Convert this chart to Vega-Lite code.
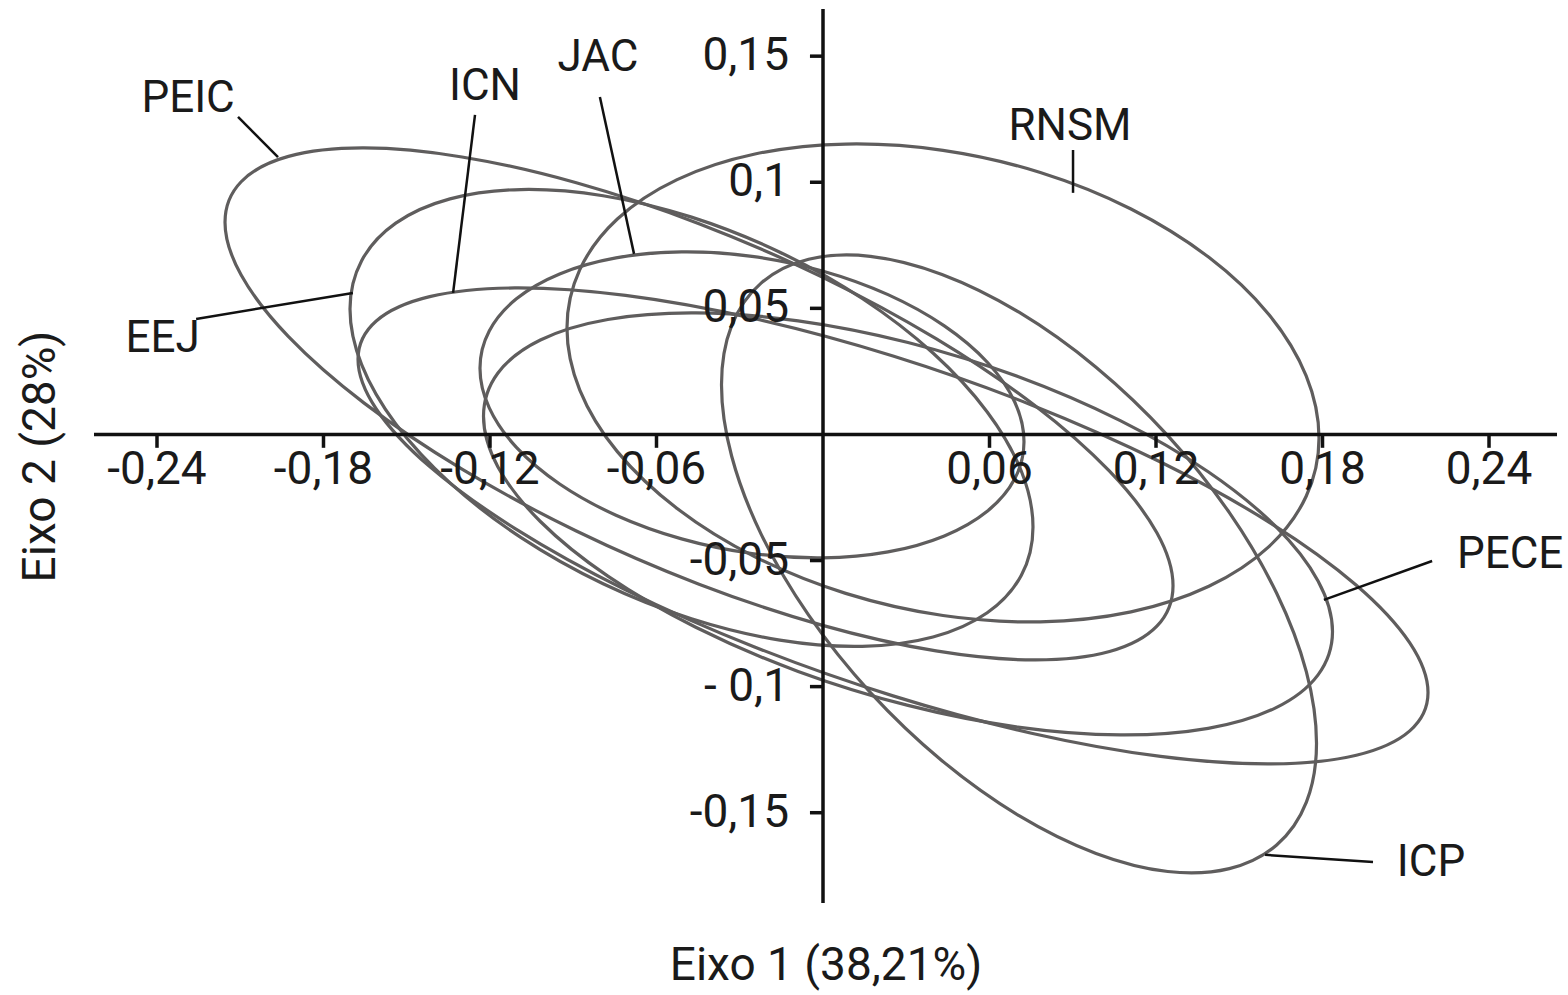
{
  "$schema": "https://vega.github.io/schema/vega-lite/v6.json",
  "width": 1463,
  "height": 894,
  "autosize": {"type": "none"},
  "padding": {"left": 94, "top": 9, "right": 11, "bottom": 92},
  "background": "white",
  "config": {
    "view": {"stroke": null},
    "font": "Roboto",
    "axis": {"domain": false, "ticks": false, "labels": false, "grid": false,
             "titleFontSize": 46, "titleFontWeight": "normal", "titleColor": "#1a1a1a", "titleFont": "Roboto"},
    "axisX": {"titlePadding": 40},
    "axisY": {"titlePadding": 30}
  },
  "datasets": {
    "ellipses": [
      {"g":"PEIC","i":0,"x":0.12613,"y":-0.05998},{"g":"PEIC","i":1,"x":0.12031,"y":-0.03902},{"g":"PEIC","i":2,"x":0.10325,"y":-0.01459},{"g":"PEIC","i":3,"x":0.07610,"y":0.01167},{"g":"PEIC","i":4,"x":0.04073,"y":0.03795},{"g":"PEIC","i":5,"x":-0.00047,"y":0.06248},{"g":"PEIC","i":6,"x":-0.04468,"y":0.08357},{"g":"PEIC","i":7,"x":-0.08889,"y":0.09978},{"g":"PEIC","i":8,"x":-0.13009,"y":0.11003},{"g":"PEIC","i":9,"x":-0.16546,"y":0.11360},{"g":"PEIC","i":10,"x":-0.19261,"y":0.11025},{"g":"PEIC","i":11,"x":-0.20967,"y":0.10020},{"g":"PEIC","i":12,"x":-0.21549,"y":0.08416},{"g":"PEIC","i":13,"x":-0.20967,"y":0.06320},{"g":"PEIC","i":14,"x":-0.19261,"y":0.03877},{"g":"PEIC","i":15,"x":-0.16546,"y":0.01251},{"g":"PEIC","i":16,"x":-0.13009,"y":-0.01377},{"g":"PEIC","i":17,"x":-0.08889,"y":-0.03830},{"g":"PEIC","i":18,"x":-0.04468,"y":-0.05939},{"g":"PEIC","i":19,"x":-0.00047,"y":-0.07560},{"g":"PEIC","i":20,"x":0.04073,"y":-0.08585},{"g":"PEIC","i":21,"x":0.07610,"y":-0.08942},{"g":"PEIC","i":22,"x":0.10325,"y":-0.08607},{"g":"PEIC","i":23,"x":0.12031,"y":-0.07602},
      {"g":"EEJ","i":0,"x":0.07567,"y":-0.03668},{"g":"EEJ","i":1,"x":0.07148,"y":-0.01460},{"g":"EEJ","i":2,"x":0.05918,"y":0.00893},{"g":"EEJ","i":3,"x":0.03963,"y":0.03229},{"g":"EEJ","i":4,"x":0.01414,"y":0.05389},{"g":"EEJ","i":5,"x":-0.01554,"y":0.07227},{"g":"EEJ","i":6,"x":-0.04739,"y":0.08617},{"g":"EEJ","i":7,"x":-0.07924,"y":0.09465},{"g":"EEJ","i":8,"x":-0.10892,"y":0.09711},{"g":"EEJ","i":9,"x":-0.13441,"y":0.09341},{"g":"EEJ","i":10,"x":-0.15396,"y":0.08379},{"g":"EEJ","i":11,"x":-0.16626,"y":0.06890},{"g":"EEJ","i":12,"x":-0.17045,"y":0.04976},{"g":"EEJ","i":13,"x":-0.16626,"y":0.02768},{"g":"EEJ","i":14,"x":-0.15396,"y":0.00415},{"g":"EEJ","i":15,"x":-0.13441,"y":-0.01921},{"g":"EEJ","i":16,"x":-0.10892,"y":-0.04081},{"g":"EEJ","i":17,"x":-0.07924,"y":-0.05919},{"g":"EEJ","i":18,"x":-0.04739,"y":-0.07309},{"g":"EEJ","i":19,"x":-0.01554,"y":-0.08157},{"g":"EEJ","i":20,"x":0.01414,"y":-0.08403},{"g":"EEJ","i":21,"x":0.03963,"y":-0.08033},{"g":"EEJ","i":22,"x":0.05918,"y":-0.07071},{"g":"EEJ","i":23,"x":0.07148,"y":-0.05582},
      {"g":"ICN","i":0,"x":0.21802,"y":-0.10234},{"g":"ICN","i":1,"x":0.21145,"y":-0.08265},{"g":"ICN","i":2,"x":0.19219,"y":-0.05979},{"g":"ICN","i":3,"x":0.16155,"y":-0.03534},{"g":"ICN","i":4,"x":0.12163,"y":-0.01095},{"g":"ICN","i":5,"x":0.07513,"y":0.01171},{"g":"ICN","i":6,"x":0.02523,"y":0.03111},{"g":"ICN","i":7,"x":-0.02467,"y":0.04591},{"g":"ICN","i":8,"x":-0.07117,"y":0.05511},{"g":"ICN","i":9,"x":-0.11109,"y":0.05808},{"g":"ICN","i":10,"x":-0.14173,"y":0.05463},{"g":"ICN","i":11,"x":-0.16099,"y":0.04497},{"g":"ICN","i":12,"x":-0.16756,"y":0.02978},{"g":"ICN","i":13,"x":-0.16099,"y":0.01009},{"g":"ICN","i":14,"x":-0.14173,"y":-0.01277},{"g":"ICN","i":15,"x":-0.11109,"y":-0.03722},{"g":"ICN","i":16,"x":-0.07117,"y":-0.06161},{"g":"ICN","i":17,"x":-0.02467,"y":-0.08427},{"g":"ICN","i":18,"x":0.02523,"y":-0.10367},{"g":"ICN","i":19,"x":0.07513,"y":-0.11847},{"g":"ICN","i":20,"x":0.12163,"y":-0.12767},{"g":"ICN","i":21,"x":0.16155,"y":-0.13064},{"g":"ICN","i":22,"x":0.19219,"y":-0.12719},{"g":"ICN","i":23,"x":0.21145,"y":-0.11753},
      {"g":"JAC","i":0,"x":0.07243,"y":-0.00286},{"g":"JAC","i":1,"x":0.06909,"y":0.01288},{"g":"JAC","i":2,"x":0.05930,"y":0.02854},{"g":"JAC","i":3,"x":0.04372,"y":0.04305},{"g":"JAC","i":4,"x":0.02342,"y":0.05543},{"g":"JAC","i":5,"x":-0.00022,"y":0.06482},{"g":"JAC","i":6,"x":-0.02559,"y":0.07060},{"g":"JAC","i":7,"x":-0.05096,"y":0.07236},{"g":"JAC","i":8,"x":-0.07460,"y":0.06999},{"g":"JAC","i":9,"x":-0.09490,"y":0.06364},{"g":"JAC","i":10,"x":-0.11048,"y":0.05376},{"g":"JAC","i":11,"x":-0.12027,"y":0.04100},{"g":"JAC","i":12,"x":-0.12361,"y":0.02626},{"g":"JAC","i":13,"x":-0.12027,"y":0.01052},{"g":"JAC","i":14,"x":-0.11048,"y":-0.00514},{"g":"JAC","i":15,"x":-0.09490,"y":-0.01965},{"g":"JAC","i":16,"x":-0.07460,"y":-0.03203},{"g":"JAC","i":17,"x":-0.05096,"y":-0.04142},{"g":"JAC","i":18,"x":-0.02559,"y":-0.04720},{"g":"JAC","i":19,"x":-0.00022,"y":-0.04896},{"g":"JAC","i":20,"x":0.02342,"y":-0.04659},{"g":"JAC","i":21,"x":0.04372,"y":-0.04024},{"g":"JAC","i":22,"x":0.05930,"y":-0.03036},{"g":"JAC","i":23,"x":0.06909,"y":-0.01760},
      {"g":"RNSM","i":0,"x":0.17874,"y":-0.00138},{"g":"RNSM","i":1,"x":0.17412,"y":0.02323},{"g":"RNSM","i":2,"x":0.16059,"y":0.04766},{"g":"RNSM","i":3,"x":0.13905,"y":0.07022},{"g":"RNSM","i":4,"x":0.11099,"y":0.08939},{"g":"RNSM","i":5,"x":0.07831,"y":0.10387},{"g":"RNSM","i":6,"x":0.04324,"y":0.11265},{"g":"RNSM","i":7,"x":0.00817,"y":0.11515},{"g":"RNSM","i":8,"x":-0.02451,"y":0.11119},{"g":"RNSM","i":9,"x":-0.05257,"y":0.10105},{"g":"RNSM","i":10,"x":-0.07411,"y":0.08542},{"g":"RNSM","i":11,"x":-0.08764,"y":0.06535},{"g":"RNSM","i":12,"x":-0.09226,"y":0.04222},{"g":"RNSM","i":13,"x":-0.08764,"y":0.01761},{"g":"RNSM","i":14,"x":-0.07411,"y":-0.00682},{"g":"RNSM","i":15,"x":-0.05257,"y":-0.02938},{"g":"RNSM","i":16,"x":-0.02451,"y":-0.04855},{"g":"RNSM","i":17,"x":0.00817,"y":-0.06303},{"g":"RNSM","i":18,"x":0.04324,"y":-0.07181},{"g":"RNSM","i":19,"x":0.07831,"y":-0.07431},{"g":"RNSM","i":20,"x":0.11099,"y":-0.07035},{"g":"RNSM","i":21,"x":0.13905,"y":-0.06021},{"g":"RNSM","i":22,"x":0.16059,"y":-0.04458},{"g":"RNSM","i":23,"x":0.17412,"y":-0.02451},
      {"g":"PECE","i":0,"x":0.18360,"y":-0.07816},{"g":"PECE","i":1,"x":0.17839,"y":-0.05809},{"g":"PECE","i":2,"x":0.16311,"y":-0.03646},{"g":"PECE","i":3,"x":0.13880,"y":-0.01478},{"g":"PECE","i":4,"x":0.10712,"y":0.00549},{"g":"PECE","i":5,"x":0.07022,"y":0.02298},{"g":"PECE","i":6,"x":0.03063,"y":0.03647},{"g":"PECE","i":7,"x":-0.00896,"y":0.04506},{"g":"PECE","i":8,"x":-0.04586,"y":0.04817},{"g":"PECE","i":9,"x":-0.07754,"y":0.04557},{"g":"PECE","i":10,"x":-0.10185,"y":0.03744},{"g":"PECE","i":11,"x":-0.11713,"y":0.02435},{"g":"PECE","i":12,"x":-0.12234,"y":0.00718},{"g":"PECE","i":13,"x":-0.11713,"y":-0.01289},{"g":"PECE","i":14,"x":-0.10185,"y":-0.03452},{"g":"PECE","i":15,"x":-0.07754,"y":-0.05620},{"g":"PECE","i":16,"x":-0.04586,"y":-0.07647},{"g":"PECE","i":17,"x":-0.00896,"y":-0.09396},{"g":"PECE","i":18,"x":0.03063,"y":-0.10745},{"g":"PECE","i":19,"x":0.07022,"y":-0.11604},{"g":"PECE","i":20,"x":0.10712,"y":-0.11915},{"g":"PECE","i":21,"x":0.13880,"y":-0.11655},{"g":"PECE","i":22,"x":0.16311,"y":-0.10842},{"g":"PECE","i":23,"x":0.17839,"y":-0.09533},
      {"g":"ICP","i":0,"x":0.17784,"y":-0.12241},{"g":"ICP","i":1,"x":0.17419,"y":-0.09416},{"g":"ICP","i":2,"x":0.16348,"y":-0.06298},{"g":"ICP","i":3,"x":0.14644,"y":-0.03102},{"g":"ICP","i":4,"x":0.12424,"y":-0.00044},{"g":"ICP","i":5,"x":0.09838,"y":0.02667},{"g":"ICP","i":6,"x":0.07063,"y":0.04846},{"g":"ICP","i":7,"x":0.04288,"y":0.06345},{"g":"ICP","i":8,"x":0.01702,"y":0.07062},{"g":"ICP","i":9,"x":-0.00518,"y":0.06947},{"g":"ICP","i":10,"x":-0.02222,"y":0.06010},{"g":"ICP","i":11,"x":-0.03293,"y":0.04312},{"g":"ICP","i":12,"x":-0.03658,"y":0.01971},{"g":"ICP","i":13,"x":-0.03293,"y":-0.00854},{"g":"ICP","i":14,"x":-0.02222,"y":-0.03972},{"g":"ICP","i":15,"x":-0.00518,"y":-0.07168},{"g":"ICP","i":16,"x":0.01702,"y":-0.10226},{"g":"ICP","i":17,"x":0.04288,"y":-0.12937},{"g":"ICP","i":18,"x":0.07063,"y":-0.15116},{"g":"ICP","i":19,"x":0.09838,"y":-0.16615},{"g":"ICP","i":20,"x":0.12424,"y":-0.17332},{"g":"ICP","i":21,"x":0.14644,"y":-0.17217},{"g":"ICP","i":22,"x":0.16348,"y":-0.16280},{"g":"ICP","i":23,"x":0.17419,"y":-0.14582}
    ],
    "axes": [
      {"x": -0.2627, "x2": 0.2645, "y": 0, "y2": 0},
      {"x": 0, "x2": 0, "y": -0.1858, "y2": 0.1687}
    ],
    "xticks": [
      {"v": -0.24, "lab": "-0,24"}, {"v": -0.18, "lab": "-0,18"}, {"v": -0.12, "lab": "-0,12"}, {"v": -0.06, "lab": "-0,06"},
      {"v": 0.06, "lab": "0,06"}, {"v": 0.12, "lab": "0,12"}, {"v": 0.18, "lab": "0,18"}, {"v": 0.24, "lab": "0,24"}
    ],
    "yticks": [
      {"v": 0.15, "lab": "0,15"}, {"v": 0.1, "lab": "0,1"}, {"v": 0.05, "lab": "0,05"},
      {"v": -0.05, "lab": "-0,05"}, {"v": -0.1, "lab": "- 0,1"}, {"v": -0.15, "lab": "-0,15"}
    ],
    "leaders": [
      {"g": "PEIC", "x": -0.2108, "y": 0.1259, "x2": -0.1964, "y2": 0.1100},
      {"g": "ICN", "x": -0.1254, "y": 0.1267, "x2": -0.1333, "y2": 0.0561},
      {"g": "JAC", "x": -0.0804, "y": 0.1338, "x2": -0.0681, "y2": 0.0716},
      {"g": "RNSM", "x": 0.0901, "y": 0.1128, "x2": 0.0901, "y2": 0.0958},
      {"g": "EEJ", "x": -0.2259, "y": 0.0458, "x2": -0.1694, "y2": 0.0561},
      {"g": "PECE", "x": 0.2195, "y": -0.0502, "x2": 0.1805, "y2": -0.0656},
      {"g": "ICP", "x": 0.1593, "y": -0.1667, "x2": 0.1982, "y2": -0.1695}
    ],
    "labels": [
      {"label": "PEIC", "x": -0.2288, "y": 0.1330},
      {"label": "ICN", "x": -0.1218, "y": 0.1378},
      {"label": "JAC", "x": -0.0811, "y": 0.1493},
      {"label": "RNSM", "x": 0.0890, "y": 0.1219},
      {"label": "EEJ", "x": -0.2380, "y": 0.0379},
      {"label": "PECE", "x": 0.2476, "y": -0.0478},
      {"label": "ICP", "x": 0.2191, "y": -0.1699}
    ]
  },
  "layer": [
    {
      "data": {"name": "ellipses"},
      "mark": {"type": "line", "interpolate": "cardinal-closed", "stroke": "#5f5d5d", "strokeWidth": 3.2},
      "encoding": {
        "x": {"field": "x", "type": "quantitative", "title": "Eixo 1 (38,21%)",
              "scale": {"domain": [-0.2627, 0.2645], "nice": false, "zero": false}},
        "y": {"field": "y", "type": "quantitative", "title": "Eixo 2 (28%)",
              "scale": {"domain": [-0.1858, 0.1687], "nice": false, "zero": false}},
        "detail": {"field": "g"},
        "order": {"field": "i", "type": "quantitative"}
      }
    },
    {
      "data": {"name": "axes"},
      "mark": {"type": "rule", "stroke": "#111111", "strokeWidth": 3.5},
      "encoding": {
        "x": {"field": "x", "type": "quantitative", "title": "Eixo 1 (38,21%)"},
        "x2": {"field": "x2"},
        "y": {"field": "y", "type": "quantitative", "title": "Eixo 2 (28%)"},
        "y2": {"field": "y2"}
      }
    },
    {
      "data": {"name": "xticks"},
      "mark": {"type": "rule", "stroke": "#111111", "strokeWidth": 3.5},
      "encoding": {
        "x": {"field": "v", "type": "quantitative", "title": "Eixo 1 (38,21%)"},
        "y": {"datum": 0, "type": "quantitative", "title": "Eixo 2 (28%)"},
        "y2": {"datum": -0.0053}
      }
    },
    {
      "data": {"name": "yticks"},
      "mark": {"type": "rule", "stroke": "#111111", "strokeWidth": 3.5},
      "encoding": {
        "y": {"field": "v", "type": "quantitative", "title": "Eixo 2 (28%)"},
        "x": {"datum": -0.0047, "type": "quantitative", "title": "Eixo 1 (38,21%)"},
        "x2": {"datum": 0}
      }
    },
    {
      "data": {"name": "xticks"},
      "mark": {"type": "text", "fontSize": 46, "font": "Roboto", "color": "#1a1a1a", "align": "center", "baseline": "middle", "dy": 36},
      "encoding": {
        "x": {"field": "v", "type": "quantitative", "title": "Eixo 1 (38,21%)"},
        "y": {"datum": 0, "type": "quantitative", "title": "Eixo 2 (28%)"},
        "text": {"field": "lab"}
      }
    },
    {
      "data": {"name": "yticks"},
      "mark": {"type": "text", "fontSize": 46, "font": "Roboto", "color": "#1a1a1a", "align": "right", "baseline": "middle", "dx": -34},
      "encoding": {
        "y": {"field": "v", "type": "quantitative", "title": "Eixo 2 (28%)"},
        "x": {"datum": 0, "type": "quantitative", "title": "Eixo 1 (38,21%)"},
        "text": {"field": "lab"}
      }
    },
    {
      "data": {"name": "leaders"},
      "mark": {"type": "rule", "stroke": "#111111", "strokeWidth": 2.5},
      "encoding": {
        "x": {"field": "x", "type": "quantitative", "title": "Eixo 1 (38,21%)"},
        "x2": {"field": "x2"},
        "y": {"field": "y", "type": "quantitative", "title": "Eixo 2 (28%)"},
        "y2": {"field": "y2"}
      }
    },
    {
      "data": {"name": "labels"},
      "mark": {"type": "text", "fontSize": 44, "font": "Roboto", "color": "#1a1a1a", "align": "center", "baseline": "middle"},
      "encoding": {
        "x": {"field": "x", "type": "quantitative", "title": "Eixo 1 (38,21%)"},
        "y": {"field": "y", "type": "quantitative", "title": "Eixo 2 (28%)"},
        "text": {"field": "label"}
      }
    }
  ]
}
